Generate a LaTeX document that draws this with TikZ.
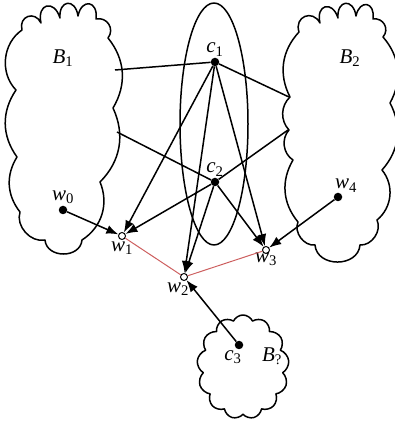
\documentclass[tikz,border=0pt]{standalone}
\usepackage{fontspec}
\setmainfont{Liberation Serif}
\usetikzlibrary{positioning,arrows.meta,shapes.symbols}
\definecolor{edgered}{RGB}{205,95,95}
\newcommand{\vname}[2]{\textit{#1}\textsubscript{#2}}

\begin{document}
\begin{tikzpicture}[x=1pt,y=1pt,font=\fontsize{21}{23}\selectfont,
    outline/.style={line width=1.5pt,line join=round},
    puff/.style={bend left=88,looseness=2.6},
    dot/.style={circle,fill=black,inner sep=0pt,minimum size=8.5pt},
    hole/.style={circle,draw,fill=white,line width=1pt,inner sep=0pt,minimum size=7pt},
    tie/.style={line width=1.5pt},
    pull/.style={line width=1.5pt,-{Latex[length=12pt,width=9pt]}},
    seg/.style={edgered,line width=1pt}]
\useasboundingbox (0,0) rectangle (395,426);
% left cloud
\draw[outline] (22,396) to[bend left=85,looseness=1.8] (41,403)
    to[puff] (60,408) to[puff] (78,410)
    to[puff] (96,407) to[bend left=70,looseness=1.3] (108,388)
    to[bend left=35] (113,318) to[bend left=35] (100,244)
    to[bend left=40] (82,186) to[bend left=85,looseness=1.3] (45,186)
    to[bend left=60] (20,214) to[bend left=35] (17,269)
    to[bend left=35] (16,336) to[bend left=50] cycle;
% right cloud
\draw[outline] (299,394) to[bend left=85,looseness=1.8] (320,403)
    to[puff] (338,408) to[puff] (356,410)
    to[puff] (373,407) to[bend left=70,looseness=1.3] (383,389)
    to[bend left=35] (390,323) to[bend left=35] (382,256)
    to[bend left=45] (377,206) to[bend left=60] (360,181)
    to[bend left=85,looseness=1.3] (315,181) to[bend left=60] (298,204)
    to[bend left=35] (293,266) to[bend left=50] (289,296)
    to[bend left=45] (290,329) to[bend left=35] cycle;
% small cloud
\node[cloud,draw,outline,cloud puffs=13,cloud puff arc=130,cloud ignores aspect,
      minimum width=92pt,minimum height=104pt] (B3) at (243,59) {};
% cluster
\draw[outline] (214,302) ellipse (34 and 121);
\node at (63,368) {\vname{B}{1}};
\node at (350,368) {\vname{B}{2}};
\node at (272,70) {\vname{B}{?}};
% border points
\coordinate (b1a) at (115,356);
\coordinate (b1b) at (117,294);
\coordinate (b2a) at (289,329);
\coordinate (b2b) at (288,296);
% points
\node[dot,label={[yshift=-2pt]above:\vname{c}{1}}] (c1) at (215,364) {};
\node[dot,label={[yshift=-2pt]above:\vname{c}{2}}] (c2) at (215,244) {};
\node[dot,label={[yshift=-2pt]above:\vname{w}{0}}] (w0) at (63,216) {};
\node[dot,label={[xshift=8pt,yshift=-3pt]above:\vname{w}{4}}] (w4) at (338,229) {};
\node[dot,label={[xshift=-6pt,yshift=2pt]below:\vname{c}{3}}] (c3) at (239,81) {};
\node[hole,label={[yshift=2pt]below:\vname{w}{1}}] (w1) at (122,190) {};
\node[hole,label={[xshift=-6pt,yshift=2pt]below:\vname{w}{2}}] (w2) at (184,149) {};
\node[hole,label={[yshift=5pt]below:\vname{w}{3}}] (w3) at (266,176) {};
% links
\draw[seg] (w1) -- (w2) -- (w3);
\draw[tie] (c1) -- (b1a);
\draw[tie] (c2) -- (b1b);
\draw[tie] (c1) -- (b2a);
\draw[tie] (c2) -- (b2b);
\foreach \c in {c1,c2}{
    \foreach \w in {w1,w2,w3}{
        \draw[pull] (\c) -- (\w);
    }
}
\draw[pull] (w0) -- (w1);
\draw[pull] (w4) -- (w3);
\draw[pull] (c3) -- (w2);
\end{tikzpicture}
\end{document}
